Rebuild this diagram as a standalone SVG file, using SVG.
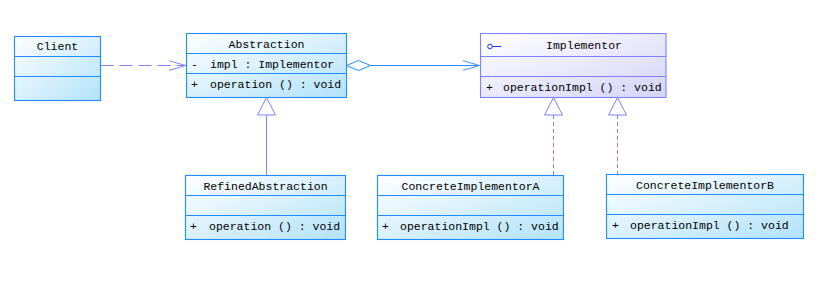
<svg xmlns="http://www.w3.org/2000/svg" width="823" height="301" viewBox="0 0 823 301">
<defs>
<linearGradient id="gb" x1="0" y1="0" x2="1" y2="1">
<stop offset="0" stop-color="#ffffff"/><stop offset="1" stop-color="#b2e2fa"/>
</linearGradient>
<linearGradient id="gp" x1="0" y1="0" x2="1" y2="1">
<stop offset="0" stop-color="#ffffff"/><stop offset="1" stop-color="#d4d4f8"/>
</linearGradient>
<marker id="open" markerWidth="20" markerHeight="12" refX="17" refY="6" orient="auto" markerUnits="userSpaceOnUse">
<path d="M0,1 L17,6 L0,11" fill="none" stroke="#8080ff" stroke-width="1"/>
</marker>
<marker id="open2" markerWidth="20" markerHeight="12" refX="17" refY="6" orient="auto" markerUnits="userSpaceOnUse">
<path d="M0,1 L17,6 L0,11" fill="none" stroke="#4090ff" stroke-width="1"/>
</marker>
</defs>
<style>
.b{fill:url(#gb);stroke:#1e8cff;stroke-width:1.1}
.p{fill:url(#gp);stroke:#8080ff;stroke-width:1.1}
.lb{stroke:#1e8cff;stroke-width:1.1}
.lp{stroke:#8080ff;stroke-width:1.1}
text{font-family:"Liberation Mono","DejaVu Sans Mono",monospace;font-size:11.5px;fill:#000}
.c{text-anchor:middle}
.conn{fill:none;stroke:#8080ff;stroke-width:1}
</style>
<rect width="823" height="301" fill="#fff"/>
<g id="client">
<rect class="b" x="14.5" y="36.5" width="86" height="64"/>
<line class="lb" x1="14.5" y1="56.5" x2="100.5" y2="56.5"/>
<line class="lb" x1="14.5" y1="76.5" x2="100.5" y2="76.5"/>
<text class="c" x="57.5" y="50">Client</text>
</g>
<g id="abstraction">
<rect class="b" x="186.5" y="33.5" width="160" height="64"/>
<line class="lb" x1="186.5" y1="53.5" x2="346.5" y2="53.5"/>
<line class="lb" x1="186.5" y1="73.5" x2="346.5" y2="73.5"/>
<text class="c" x="266.5" y="48">Abstraction</text>
<text x="191" y="67.5">-</text><text x="210" y="67.5">impl : Implementor</text>
<text x="191" y="87.5">+</text><text x="210" y="87.5">operation () : void</text>
</g>
<g id="implementor">
<rect class="p" x="480.5" y="33.5" width="185.5" height="64"/>
<line class="lp" x1="480.5" y1="56.5" x2="666" y2="56.5"/>
<line class="lp" x1="480.5" y1="76.5" x2="666" y2="76.5"/>
<circle cx="490" cy="46.5" r="2.3" fill="none" stroke="#2030ff" stroke-width="1"/>
<line x1="492.3" y1="46.5" x2="501" y2="46.5" stroke="#2030ff" stroke-width="1"/>
<text class="c" x="584" y="49">Implementor</text>
<text x="486" y="90.5">+</text><text x="503" y="90.5">operationImpl () : void</text>
</g>
<g id="refinedAbstraction">
<rect class="b" x="185.5" y="175.5" width="160" height="64"/>
<line class="lb" x1="185.5" y1="195.5" x2="345.5" y2="195.5"/>
<line class="lb" x1="185.5" y1="215.5" x2="345.5" y2="215.5"/>
<text class="c" x="265.5" y="189.5">RefinedAbstraction</text>
<text x="190" y="229.5">+</text><text x="209" y="229.5">operation () : void</text>
</g>
<g id="concreteImplementorA">
<rect class="b" x="377.5" y="175.5" width="186" height="64"/>
<line class="lb" x1="377.5" y1="195.5" x2="563.5" y2="195.5"/>
<line class="lb" x1="377.5" y1="215.5" x2="563.5" y2="215.5"/>
<text class="c" x="470.5" y="189.5">ConcreteImplementorA</text>
<text x="382" y="229.5">+</text><text x="400" y="229.5">operationImpl () : void</text>
</g>
<g id="concreteImplementorB">
<rect class="b" x="606.5" y="174.5" width="197" height="64"/>
<line class="lb" x1="606.5" y1="194.5" x2="803.5" y2="194.5"/>
<line class="lb" x1="606.5" y1="214.5" x2="803.5" y2="214.5"/>
<text class="c" x="705" y="189">ConcreteImplementorB</text>
<text x="612" y="229">+</text><text x="630" y="229">operationImpl () : void</text>
</g>
<g id="connectors">
<line class="conn" x1="100.5" y1="65.5" x2="185.5" y2="65.5" stroke-dasharray="13,6" marker-end="url(#open)"/>
<path d="M346.5,65.5 L358.5,60.5 L370.5,65.5 L358.5,70.5 Z" fill="#fff" stroke="#1e8cff" stroke-width="1"/>
<line x1="370.5" y1="65.5" x2="479.5" y2="65.5" stroke="#1e8cff" stroke-width="1" marker-end="url(#open2)"/>
<line class="conn" x1="266.5" y1="115" x2="266.5" y2="175"/>
<path d="M266.5,97.5 L257.5,115 L275.5,115 Z" fill="#fff" stroke="#8080ff" stroke-width="1"/>
<line class="conn" x1="553.5" y1="115" x2="553.5" y2="175" stroke-dasharray="4,3"/>
<path d="M553.5,97.5 L544.5,115 L562.5,115 Z" fill="#fff" stroke="#8080ff" stroke-width="1"/>
<line class="conn" x1="617.5" y1="115" x2="617.5" y2="174.5" stroke-dasharray="4,3"/>
<path d="M617.5,97.5 L608.5,115 L626.5,115 Z" fill="#fff" stroke="#8080ff" stroke-width="1"/>
</g>
</svg>
